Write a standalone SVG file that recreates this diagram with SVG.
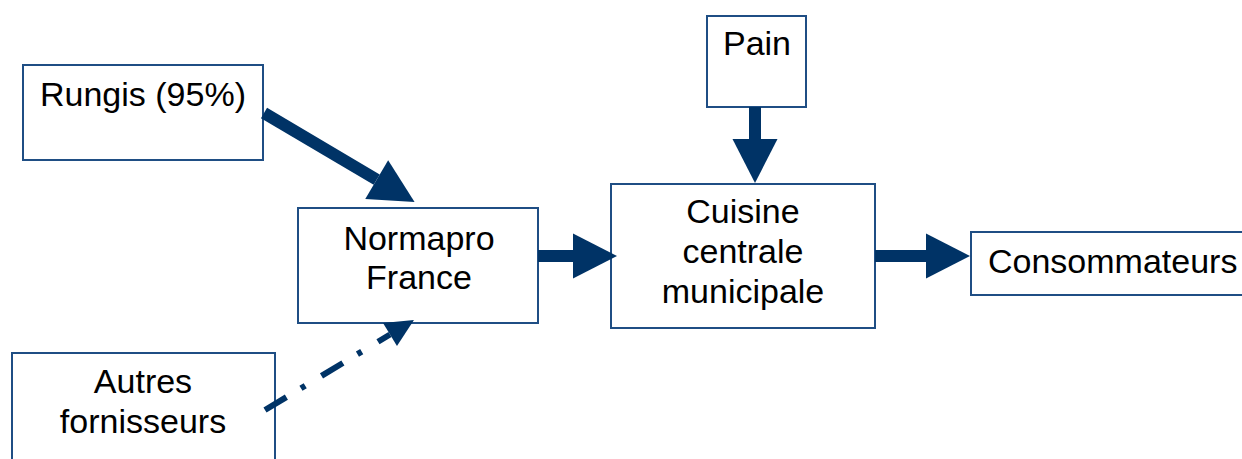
<svg xmlns="http://www.w3.org/2000/svg" width="1242" height="459" viewBox="0 0 1242 459">
<style>
.box{fill:#fff;stroke:#1f4e84;stroke-width:2}
.t{font-family:"Liberation Sans",Arial,sans-serif;font-size:34px;fill:#000;text-anchor:middle}
.thick{stroke:#003366;stroke-width:12;fill:none;stroke-linecap:butt}
.dash{stroke:#003366;stroke-width:6;fill:none;stroke-dasharray:25 17 5 19}
</style>
<defs>
<marker id="big" markerUnits="userSpaceOnUse" markerWidth="46" markerHeight="46" refX="0" refY="22.5" orient="auto" overflow="visible">
<path d="M0,0 L44,22.5 L0,45 Z" fill="#003366"/>
</marker>
<marker id="small" markerUnits="userSpaceOnUse" markerWidth="30" markerHeight="30" refX="0" refY="13.5" orient="auto" overflow="visible">
<path d="M0,0 L28,13.5 L0,27 Z" fill="#003366"/>
</marker>
</defs>
<rect width="1242" height="459" fill="#fff"/>
<g id="rungis">
<rect class="box" x="23" y="65" width="240" height="95"/>
<text class="t" x="143" y="106">Rungis (95%)</text>
</g>
<g id="normapro">
<rect class="box" x="298" y="208" width="240" height="115"/>
<text class="t" x="419" y="250">Normapro</text>
<text class="t" x="419" y="289">France</text>
</g>
<g id="autres">
<rect class="box" x="12" y="353" width="263" height="120"/>
<text class="t" x="143" y="393">Autres</text>
<text class="t" x="143" y="433">fornisseurs</text>
</g>
<g id="pain">
<rect class="box" x="707" y="16" width="99" height="91"/>
<text class="t" x="757" y="55">Pain</text>
</g>
<g id="cuisine">
<rect class="box" x="611" y="184" width="264" height="144"/>
<text class="t" x="743" y="223">Cuisine</text>
<text class="t" x="743" y="263">centrale</text>
<text class="t" x="743" y="303">municipale</text>
</g>
<g id="consommateurs">
<rect class="box" x="971" y="232" width="290" height="63"/>
<text class="t" x="988" y="273" style="text-anchor:start">Consommateurs</text>
</g>
<g id="connectors">
<line class="thick" x1="264" y1="113" x2="376.7" y2="179.7" marker-end="url(#big)"/>
<line class="dash" x1="265" y1="410" x2="390" y2="334.5" marker-end="url(#small)"/>
<line class="thick" x1="538" y1="256" x2="573" y2="256" marker-end="url(#big)"/>
<line class="thick" x1="755" y1="107" x2="755" y2="139" marker-end="url(#big)"/>
<line class="thick" x1="875" y1="256" x2="926" y2="256" marker-end="url(#big)"/>
</g>
</svg>
